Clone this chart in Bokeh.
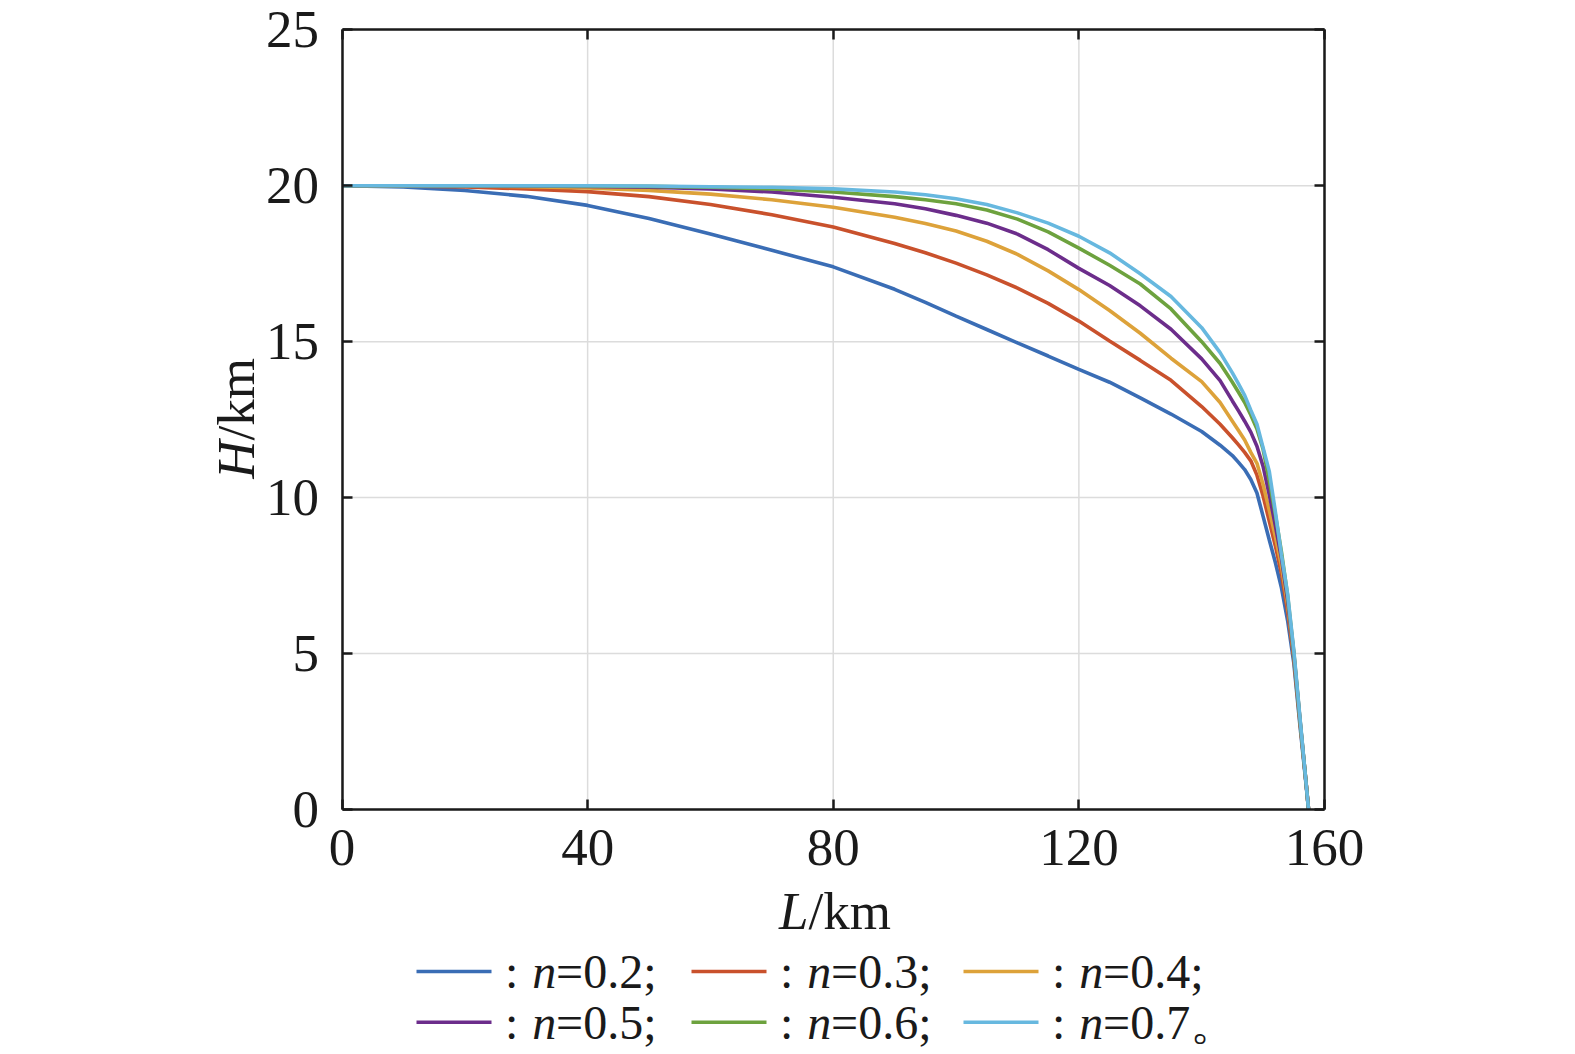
from bokeh.plotting import figure
from bokeh.models import Range1d, FixedTicker, LinearAxis
from bokeh.core.properties import value
from bokeh.embed import file_html
from bokeh.resources import INLINE
import math

# ---------------- data ----------------
L_km = [0, 10, 20, 30, 40, 50, 60, 70, 80, 90, 95, 100, 105, 110, 115, 120, 125, 130, 135,
        140, 143, 145, 146, 147, 148, 149, 150, 151, 152, 153, 154, 155, 156, 157, 157.4]

H_n02 = [20.00, 19.96, 19.85, 19.66, 19.37, 18.95, 18.45, 17.93, 17.40, 16.68, 16.26, 15.82,
         15.39, 14.96, 14.54, 14.11, 13.70, 13.20, 12.68, 12.12, 11.68, 11.35, 11.13, 10.90,
         10.58, 10.15, 9.40, 8.65, 7.92, 7.10, 6.05, 4.70, 2.70, 0.80, 0.0]
H_n03 = [20.00, 19.99, 19.96, 19.90, 19.81, 19.65, 19.40, 19.07, 18.68, 18.15, 17.85, 17.52,
         17.14, 16.72, 16.23, 15.66, 15.02, 14.40, 13.76, 12.92, 12.35, 11.92, 11.69, 11.45,
         11.18, 10.72, 10.05, 9.25, 8.45, 7.55, 6.35, 4.85, 2.80, 0.85, 0.0]
H_n04 = [20.00, 20.00, 19.99, 19.97, 19.93, 19.85, 19.73, 19.55, 19.31, 18.99, 18.79, 18.55,
         18.22, 17.80, 17.27, 16.67, 16.00, 15.27, 14.47, 13.72, 13.05, 12.45, 12.15, 11.85,
         11.45, 11.10, 10.42, 9.60, 8.75, 7.80, 6.55, 4.95, 2.85, 0.85, 0.0]
H_n05 = [20.00, 20.00, 20.00, 19.99, 19.98, 19.95, 19.90, 19.80, 19.63, 19.42, 19.26, 19.05,
         18.80, 18.45, 17.95, 17.35, 16.80, 16.15, 15.40, 14.45, 13.75, 13.10, 12.78, 12.45,
         12.10, 11.65, 11.00, 10.10, 9.10, 8.05, 6.70, 5.00, 2.90, 0.85, 0.0]
H_n06 = [20.00, 20.00, 20.00, 20.00, 19.99, 19.98, 19.95, 19.90, 19.80, 19.65, 19.55, 19.42,
         19.22, 18.93, 18.52, 18.00, 17.45, 16.85, 16.05, 15.00, 14.30, 13.70, 13.38, 13.05,
         12.65, 12.20, 11.55, 10.55, 9.45, 8.25, 6.85, 5.05, 2.90, 0.85, 0.0]
H_n07 = [20.00, 20.00, 20.00, 20.00, 20.00, 19.99, 19.97, 19.95, 19.90, 19.80, 19.71, 19.58,
         19.40, 19.13, 18.80, 18.38, 17.85, 17.18, 16.45, 15.45, 14.65, 14.00, 13.65, 13.28,
         12.80, 12.35, 11.60, 10.85, 9.55, 8.15, 6.90, 5.10, 2.95, 0.85, 0.0]

series_values = [H_n02, H_n03, H_n04, H_n05, H_n06, H_n07]
n_labels = ["0.2;", "0.3;", "0.4;", "0.5;", "0.6;", "0.7\u3002"]
colors = ["#3A6DB5", "#C9512C", "#DDA23A", "#6C2D8B", "#6DA23E", "#67B8DF"]

x_ticks = [0, 40, 80, 120, 160]
y_ticks = [0, 5, 10, 15, 20, 25]
x_label_parts = ["L", "/km"]
y_label_parts = ["H", "/km"]

# ---------------- layout / style ----------------
FONT = "Liberation Serif"
INK = "#1a1a1a"
W, H = 1570, 1052
BOX_L, BOX_R, BOX_T, BOX_B = 341.5, 1324.0, 29.3, 809.0   # canvas px of the axes box
X0, X1 = x_ticks[0], x_ticks[-1]
Y0, Y1 = y_ticks[0], y_ticks[-1]
sx = (BOX_R - BOX_L) / (X1 - X0)
sy = (BOX_B - BOX_T) / (Y1 - Y0)
xr = Range1d(X0 - BOX_L / sx, X0 + (W - BOX_L) / sx)
yr = Range1d(Y1 - (H - BOX_T) / sy, Y1 + BOX_T / sy)


def px_x(cx):
    return xr.start + cx / sx


def px_y(cy):
    return yr.end - cy / sy


p = figure(width=W, height=H, output_backend="svg", toolbar_location=None,
           x_range=xr, y_range=yr, x_axis_location=None, y_axis_location=None,
           min_border=0, min_border_left=0, min_border_right=0,
           min_border_top=0, min_border_bottom=0)
p.outline_line_color = None
p.background_fill_color = "white"
p.border_fill_color = "white"
p.grid.visible = False

# grid lines inside the axes box
p.segment(x0=x_ticks, y0=[Y0] * len(x_ticks), x1=x_ticks, y1=[Y1] * len(x_ticks),
          line_color="#dcdcdc", line_width=1.5)
p.segment(x0=[X0] * len(y_ticks), y0=y_ticks, x1=[X1] * len(y_ticks), y1=y_ticks,
          line_color="#dcdcdc", line_width=1.5)


def style_axis(ax):
    ax.axis_line_color = INK
    ax.axis_line_width = 2.5
    ax.major_tick_line_color = INK
    ax.major_tick_line_width = 2.5
    ax.major_tick_in = 10
    ax.major_tick_out = 0
    ax.minor_tick_line_color = None
    ax.major_label_text_font = FONT
    ax.major_label_text_font_size = "53px"
    ax.major_label_text_color = INK


bottom = LinearAxis(ticker=FixedTicker(ticks=x_ticks), fixed_location=Y0, bounds=(X0, X1))
left = LinearAxis(ticker=FixedTicker(ticks=y_ticks), fixed_location=X0, bounds=(Y0, Y1))
top = LinearAxis(ticker=FixedTicker(ticks=x_ticks), fixed_location=Y1, bounds=(X0, X1),
                 major_label_overrides={t: "" for t in x_ticks})
right = LinearAxis(ticker=FixedTicker(ticks=y_ticks), fixed_location=X1, bounds=(Y0, Y1),
                   major_label_overrides={t: "" for t in y_ticks})
for ax in (bottom, left, top, right):
    style_axis(ax)
bottom.major_label_standoff = 20
left.major_label_standoff = 23
p.add_layout(bottom, "below")
p.add_layout(left, "left")
p.add_layout(top, "above")
p.add_layout(right, "right")

# data curves
for vals, col in zip(series_values, colors):
    p.line(L_km, vals, line_color=col, line_width=3.6)

# axis titles: italic symbol + upright unit
AX_FS = "53px"
p.text(x=[px_x(808)], y=[px_y(910)], text=[x_label_parts[0]], text_font=value(FONT),
       text_font_style="italic", text_font_size=AX_FS, text_color=INK,
       text_align="right", text_baseline="middle")
p.text(x=[px_x(808)], y=[px_y(910)], text=[x_label_parts[1]], text_font=value(FONT),
       text_font_size=AX_FS, text_color=INK,
       text_align="left", text_baseline="middle")
p.text(x=[px_x(235)], y=[px_y(440)], text=[y_label_parts[0]], text_font=value(FONT),
       text_font_style="italic", text_font_size=AX_FS, text_color=INK,
       text_align="right", text_baseline="middle", angle=math.pi / 2)
p.text(x=[px_x(235)], y=[px_y(440)], text=[y_label_parts[1]], text_font=value(FONT),
       text_font_size=AX_FS, text_color=INK,
       text_align="left", text_baseline="middle", angle=math.pi / 2)

# legend (two rows x three columns), canvas-pixel layout
col_x = [416.0, 691.0, 963.0]
row_y = [971.0, 1021.7]
SAMPLE = 75.0
for i, (lab, col) in enumerate(zip(n_labels, colors)):
    x0 = col_x[i % 3]
    y0 = row_y[i // 3]
    e = x0 + SAMPLE
    p.line([px_x(x0), px_x(e)], [px_y(y0), px_y(y0)], line_color=col, line_width=3.6)
    p.text(x=[px_x(e + 13.6)], y=[px_y(y0)], text=[":"], text_font=value(FONT),
           text_font_size="48px", text_color=INK, text_baseline="middle")
    p.text(x=[px_x(e + 40.7)], y=[px_y(y0)], text=["n"], text_font=value(FONT),
           text_font_style="italic", text_font_size="48px", text_color=INK,
           text_baseline="middle")
    p.text(x=[px_x(e + 64.6)], y=[px_y(y0)], text=["=" + lab], text_font=value(FONT),
           text_font_size="48px", text_color=INK, text_baseline="middle")

open("out.html", "w").write(file_html(p, INLINE))
